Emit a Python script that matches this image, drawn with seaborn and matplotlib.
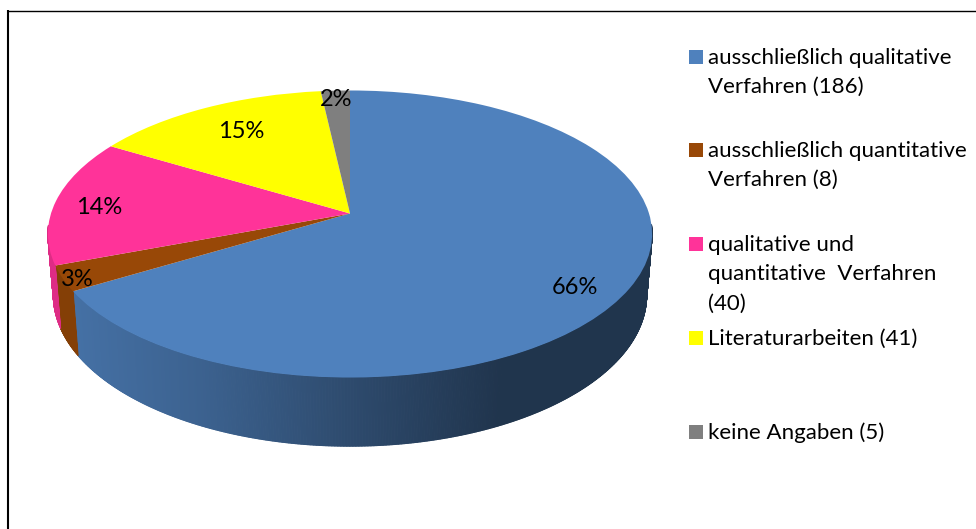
import numpy as np
import matplotlib
matplotlib.use("Agg")
import matplotlib.pyplot as plt
import seaborn as sns
from matplotlib.collections import PolyCollection
from matplotlib.patches import Rectangle
from matplotlib.transforms import Transform

# Daten aus dem Bild
kategorien = [
    "ausschließlich qualitative\nVerfahren (186)",
    "ausschließlich quantitative\nVerfahren (8)",
    "qualitative und\nquantitative  Verfahren\n(40)",
    "Literaturarbeiten (41)",
    "keine Angaben (5)",
]
werte = [186, 8, 40, 41, 5]
farben = ["#4F81BD", "#984807", "#FF3399", "#FFFF00", "#7F7F7F"]

# Layout in Pixeln
label_pos = [(575, 288), (77, 279), (99, 208), (241, 132), (336, 100)]
legende_y = [50, 143, 237, 331, 425]


class Perspektive(Transform):
    # projiziert den Einheitskreis so wie die 3D-Torte in Excel
    input_dims = 2
    output_dims = 2

    def __init__(self, cx, cy, gx, gy, k=1 / 7):
        super().__init__()
        self.cx, self.cy, self.gx, self.gy, self.k = cx, cy, gx, gy, k

    def transform_non_affine(self, values):
        x, y = np.asarray(values).T
        d = 1 + self.k * y
        return np.column_stack((self.cx + self.gx * x / d, self.cy - self.gy * y / d))


def schatten(x):
    # Helligkeit der Seitenwand, links hell, rechts dunkel
    return np.interp(x, [75, 200, 350, 500, 650], [0.87, 0.76, 0.58, 0.41, 0.41])


sns.set_theme(style="white")
plt.rcParams["font.family"] = ["Lato", "DejaVu Sans"]
palette = sns.color_palette(farben)

fig = plt.figure(figsize=(9.76, 5.29), dpi=100)
ax = fig.add_axes([0, 0, 1, 1])

wedges, _ = ax.pie(werte, colors=palette, startangle=90, counterclock=False,
                   wedgeprops={"linewidth": 0})
ax.set_aspect("auto")
ax.set_xlim(0, 976)
ax.set_ylim(529, 0)

oben = Perspektive(350, 213.5, 299, 140.6)
unten = Perspektive(350, 273.5, 293.6, 148)

# Seitenwand aus schmalen Streifen, nur die vordere Haelfte ist sichtbar
polys = []
poly_farben = []
for wedge, farbe in zip(wedges, palette):
    wedge.set_transform(oben + ax.transData)
    n = max(int(4 * (wedge.theta2 - wedge.theta1)), 2)
    t = np.radians(np.linspace(wedge.theta1, wedge.theta2, n + 1))
    kreis = np.column_stack((np.cos(t), np.sin(t)))
    p_oben = oben.transform(kreis)
    p_unten = unten.transform(kreis)
    for i in range(n):
        if np.sin(t[i]) > -0.08:
            continue
        polys.append([p_oben[i], p_oben[i + 1], p_unten[i + 1], p_unten[i]])
        poly_farben.append(np.array(farbe) * schatten(p_oben[i:i + 2, 0].mean()))
ax.add_collection(PolyCollection(polys, facecolors=poly_farben, edgecolors=poly_farben,
                                 linewidths=0.8, zorder=0.5))

# Prozentwerte
for wert, (x, y) in zip(werte, label_pos):
    ax.text(x, y, f"{round(100 * wert / sum(werte))}%", ha="center", va="center",
            fontsize=17, color="black", zorder=3)

# Legende
for name, farbe, y in zip(kategorien, palette, legende_y):
    ax.add_patch(Rectangle((689, y), 14, 14, facecolor=farbe, edgecolor="none"))
    for i, zeile in enumerate(name.split("\n")):
        ax.text(708, y + 8 + i * 29.3, zeile, ha="left", va="center", fontsize=16,
                color="black")

# Rahmen, nur links und oben sichtbar
ax.plot([8, 8], [529, 10], color="black", lw=1.5, solid_capstyle="butt")
ax.plot([7, 976], [10.5, 10.5], color="black", lw=1, solid_capstyle="butt")

ax.set_axis_off()
fig.savefig("out.png", dpi=100)
